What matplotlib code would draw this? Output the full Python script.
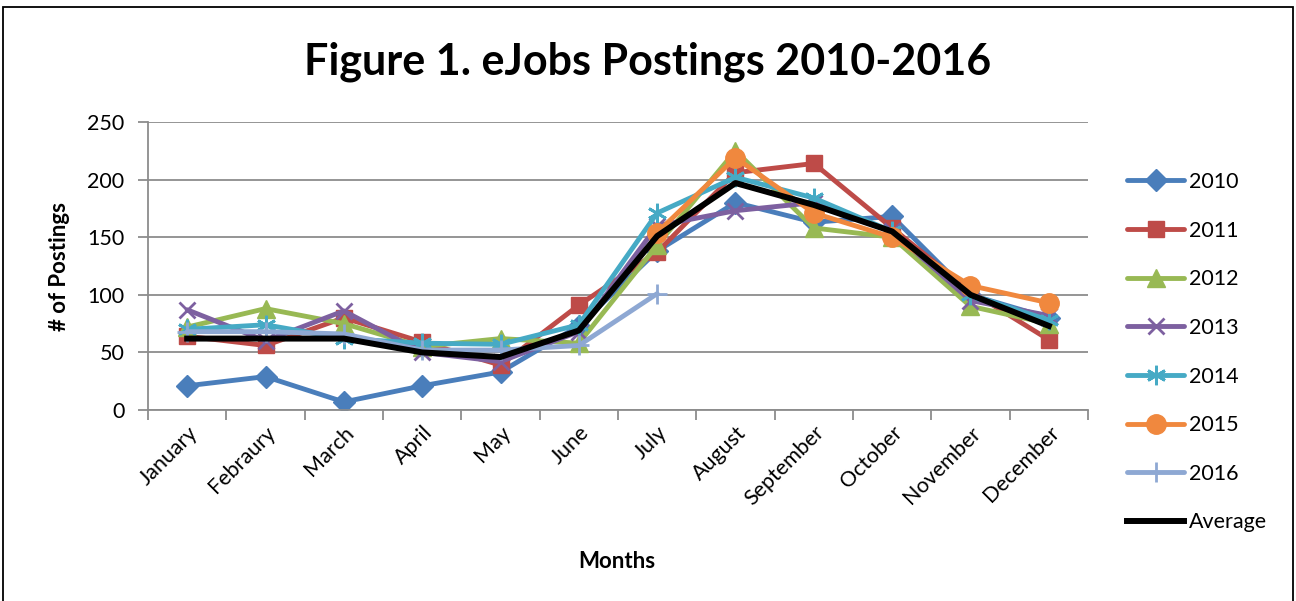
import matplotlib
matplotlib.use("Agg")
import matplotlib.pyplot as plt
import numpy as np
from matplotlib.patches import Rectangle

months = ["January", "Febraury", "March", "April", "May", "June", "July",
          "August", "September", "October", "November", "December"]

nan = np.nan
y2010 = [21, 29, 7, 21, 33, 73, 138, 180, 163, 168, 100, 80]
y2011 = [64, 56, 80, 59, 39, 91, 137, 206, 214, 158, 103, 61]
y2012 = [72, 88, 75, 55, 62, 58, 143, 225, 158, 150, 90, 75]
y2013 = [87, 60, 86, 50, 42, 68, 160, 173, 180, 155, 95, 82]
y2014 = [70, 74, 62, 58, 57, 74, 171, 202, 184, 155, 100, 78]
y2015 = [nan, nan, nan, nan, nan, nan, 154, 219, 171, 150, 108, 93]
y2016 = [68, 68, 66, 52, 52, 56, 101]
yavg = [62, 62, 62, 50, 46, 69, 151, 197, 178, 155, 100, 73]

series = [
    ("2010", y2010, "#4A7EBB", "D", 11),
    ("2011", y2011, "#BE4B48", "s", 12),
    ("2012", y2012, "#98B954", "^", 13),
    ("2013", y2013, "#7D60A0", "x", 12),
    ("2014", y2014, "#46AAC5", (6, 2, 0), 14),
    ("2015", y2015, "#F0883E", "o", 14),
    ("2016", y2016, "#8EA8D3", "+", 14),
]

plt.rcParams['font.family'] = ['Lato', 'DejaVu Sans']

fig = plt.figure(figsize=(12.96, 6.01), dpi=100)
ax = fig.add_axes([148/1296, 1-410/601, 940/1296, 288/601])

for name, vals, col, mk, ms in series:
    x = list(range(len(vals)))
    mew = 2.0 if mk in ("x", "+", (6, 2, 0)) else 1.0
    ax.plot(x, vals, color=col, lw=3.5, marker=mk, markersize=ms,
            markeredgewidth=mew, markeredgecolor=col, markerfacecolor=col,
            label=name, solid_joinstyle='round', solid_capstyle='round')
ax.plot(range(len(yavg)), yavg, color="black", lw=4.3, label="Average",
        solid_joinstyle='round')

ax.set_ylim(0, 250)
ax.set_xlim(-0.5, 11.5)
ax.set_yticks([0, 50, 100, 150, 200, 250])
ax.yaxis.grid(True, color="#8C8C8C", lw=1.3)
ax.set_axisbelow(True)
ax.set_xticks(range(12))
ax.set_xticklabels(months, rotation=45, ha="right", rotation_mode="anchor",
                   fontsize=15.5)
ax.tick_params(axis="x", which="major", length=0, pad=9)
ax.set_xticks([i - 0.5 for i in range(13)], minor=True)
ax.tick_params(axis="x", which="minor", length=7, color="#8C8C8C", width=1.3)
ax.tick_params(axis="y", labelsize=15.5, length=7, color="#8C8C8C", width=1.3, pad=10)
for s in ("top", "right"):
    ax.spines[s].set_visible(False)
for s in ("left", "bottom"):
    ax.spines[s].set_color("#8C8C8C")
    ax.spines[s].set_linewidth(1.3)

fig.text(0.5, 1-62/601, "Figure 1. eJobs Postings 2010-2016", ha="center",
         va="center", fontsize=31, fontweight="bold")
fig.text(617/1296, 1-561/601, "Months", ha="center", va="center",
         fontsize=16, fontweight="bold")
fig.text(60/1296, 1-266/601, "# of Postings", ha="center", va="center",
         rotation=90, fontsize=16, fontweight="bold")

leg = fig.legend(loc="upper left", bbox_to_anchor=(1127/1296, 1-172/601),
                 frameon=False, fontsize=15.5, handlelength=2.65,
                 labelspacing=1.33, handletextpad=0.25, borderpad=0,
                 borderaxespad=0)

fig.patches.append(Rectangle((3/1296, -0.05), 1290/1296, 1.05-7/601,
                             transform=fig.transFigure, fill=False,
                             edgecolor="black", lw=1.3))

fig.savefig("out.png", dpi=100, facecolor="white")
